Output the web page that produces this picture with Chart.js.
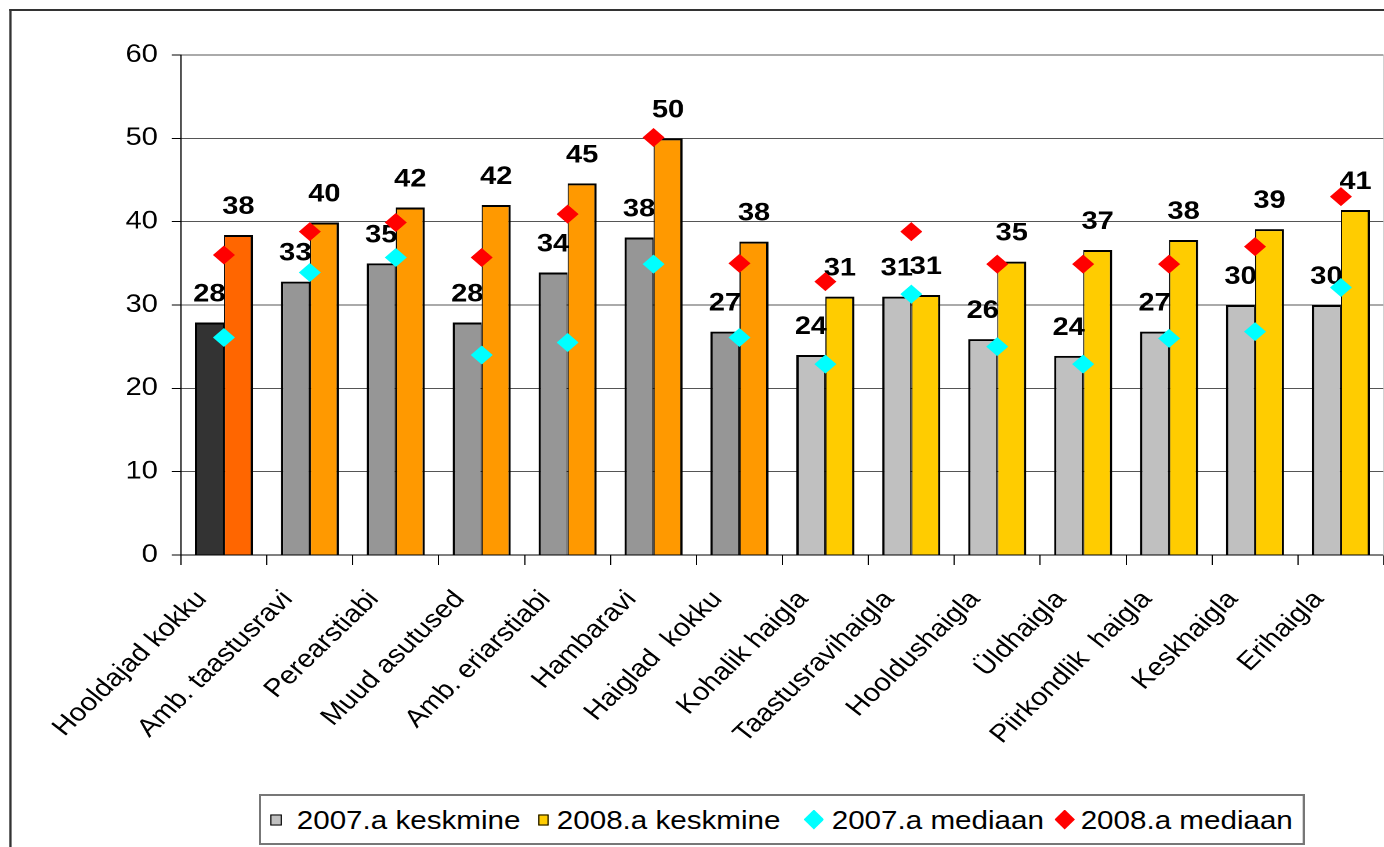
<!DOCTYPE html>
<html>
<head>
<meta charset="utf-8">
<script src="https://cdn.jsdelivr.net/npm/chart.js"></script>
<style>
    html, body { margin: 0; padding: 0; background: #fff; overflow: hidden; }
    /* the original picture is stretched sideways, so the whole sheet is drawn narrow and scaled */
    #sheet { position: absolute; left: 0; top: 0; width: 1193px; height: 847px; transform: scaleX(1.16); transform-origin: 0 0; }
    #frame { position: absolute; left: 7.5px; top: 9px; width: 2000px; height: 2000px; border-left: 2px solid #333; border-top: 2px solid #333; }
    #lineChart { position: absolute; left: 0; top: 0; }
    #legend { position: absolute; left: 223px; top: 794px; width: 902px; height: 51px; box-sizing: border-box; border: 2px solid #777; background: #fff; font: 25.5px "Liberation Sans", Arial, sans-serif; color: #000; }
    #legend .item { position: absolute; top: 50%; transform: translateY(-50%); white-space: nowrap; }
    #legend .box { width: 9.5px; height: 11px; border: 1px solid #000; box-sizing: border-box; }
    #legend .diamond { width: 17.7px; height: 20px; clip-path: polygon(50% 0, 100% 50%, 50% 100%, 0 50%); }
</style>
</head>
<body>
<div id="sheet">
    <div id="frame"></div>
    <canvas id="lineChart" width="1193" height="847"></canvas>
    <div id="legend"></div>
</div>

<script>
    const categories = ['Hooldajad kokku', 'Amb. taastusravi', 'Perearstiabi', 'Muud asutused', 'Amb. eriarstiabi',
        'Hambaravi', 'Haiglad  kokku', 'Kohalik haigla', 'Taastusravihaigla', 'Hooldushaigla', 'Üldhaigla',
        'Piirkondlik  haigla', 'Keskhaigla', 'Erihaigla'];
    const mean2007 = [27.9, 32.8, 35.0, 27.9, 33.9, 38.1, 26.8, 24.0, 31.0, 25.9, 23.9, 26.8, 30.0, 30.0];
    const mean2008 = [38.4, 39.9, 41.7, 42.0, 44.6, 50.0, 37.6, 31.0, 31.2, 35.2, 36.6, 37.8, 39.1, 41.4];
    const median2007 = [26.1, 33.9, 35.7, 24.0, 25.5, 34.9, 26.1, 22.9, 31.3, 25.0, 22.9, 26.0, 26.8, 32.1];
    const median2008 = [36.0, 38.8, 39.9, 35.7, 40.9, 50.1, 35.0, 32.8, 38.8, 34.9, 34.9, 34.9, 37.0, 43.0];
    const yMin = 0, yMax = 60, yStep = 10;

    const seriesNames = ['2007.a keskmine', '2008.a keskmine', '2007.a mediaan', '2008.a mediaan'];
    // totals, outpatient groups and hospital groups have their own shades
    const colors2007 = ['#333333', '#969696', '#969696', '#969696', '#969696', '#969696', '#969696',
        '#C0C0C0', '#C0C0C0', '#C0C0C0', '#C0C0C0', '#C0C0C0', '#C0C0C0', '#C0C0C0'];
    const colors2008 = ['#FF6600', '#FF9900', '#FF9900', '#FF9900', '#FF9900', '#FF9900', '#FF9900',
        '#FFCC00', '#FFCC00', '#FFCC00', '#FFCC00', '#FFCC00', '#FFCC00', '#FFCC00'];

    const font = '"Liberation Sans", Arial, sans-serif';

    const barLabels = { // value labels above each bar, drawn before the diamonds
        id: 'barLabels',
        afterDatasetDraw(chart, args) {
            const ds = chart.data.datasets[args.index];
            if (ds.type !== 'bar') return;
            const ctx = chart.ctx;
            ctx.save();
            ctx.font = 'bold 25px ' + font;
            ctx.fillStyle = '#000';
            ctx.textAlign = 'center';
            ctx.textBaseline = 'alphabetic';
            args.meta.data.forEach((bar, i) => {
                ctx.fillText(Math.round(ds.data[i]), bar.x, bar.y - 21);
            });
            ctx.restore();
        }
    };

    render_chart();
    render_legend();

    function render_chart() {
        let ctx = document.getElementById('lineChart').getContext('2d');
        new Chart(ctx, {
            type: 'bar',
            data: {
                labels: categories,
                datasets: [
                    {
                        type: 'bar', label: seriesNames[0], data: mean2007, order: 2,
                        backgroundColor: colors2007, borderColor: '#000',
                        borderWidth: { left: 2, top: 2, right: 1, bottom: 0 }, borderSkipped: false
                    },
                    {
                        type: 'bar', label: seriesNames[1], data: mean2008, order: 2,
                        backgroundColor: colors2008, borderColor: '#000',
                        borderWidth: { left: 1, top: 2, right: 2, bottom: 0 }, borderSkipped: false
                    },
                    {
                        type: 'line', label: seriesNames[2], data: median2007, order: 1, showLine: false,
                        pointStyle: 'rectRot', pointRadius: 9.5, pointHoverRadius: 9.5, pointBorderWidth: 0,
                        pointBackgroundColor: '#00FFFF', borderColor: '#00FFFF'
                    },
                    {
                        type: 'line', label: seriesNames[3], data: median2008, order: 0, showLine: false,
                        pointStyle: 'rectRot', pointRadius: 9.5, pointHoverRadius: 9.5, pointBorderWidth: 0,
                        pointBackgroundColor: '#FF0000', borderColor: '#FF0000'
                    }
                ]
            },
            options: {
                responsive: false,
                animation: false,
                devicePixelRatio: 2,
                layout: { autoPadding: false, padding: { top: 55, left: 0, right: 0, bottom: 0 } },
                datasets: {
                    bar: { categoryPercentage: 0.676, barPercentage: 1 }
                },
                plugins: {
                    legend: { display: false },
                    tooltip: { enabled: false }
                },
                scales: {
                    x: {
                        offset: true,
                        grid: { offset: true, drawOnChartArea: false, tickLength: 10, color: '#000' },
                        border: { color: '#000', width: 1 },
                        ticks: {
                            font: { family: font, size: 25 }, color: '#000',
                            autoSkip: false, maxRotation: 48, minRotation: 48, padding: 20, labelOffset: -19
                        },
                        afterFit(scale) {
                            scale.height = 292;
                            scale.paddingLeft = 0; // keep the plot running to the right edge
                            scale.paddingRight = 0;
                        }
                    },
                    y: {
                        min: yMin, max: yMax,
                        grid: { color: '#555', tickColor: '#000', tickLength: 8 },
                        border: { color: '#000', width: 1 },
                        ticks: { stepSize: yStep, font: { family: font, size: 25 }, color: '#000', padding: 12 },
                        afterFit(scale) { scale.width = 156; }
                    },
                    yRight: { // only the faint right edge of the plot area
                        position: 'right', min: yMin, max: yMax,
                        grid: { display: false },
                        ticks: { display: false },
                        border: { color: '#c8c8c8', width: 1 },
                        afterFit(scale) { scale.width = 0; }
                    }
                }
            },
            plugins: [barLabels]
        });
    }

    function render_legend() {
        const legend = document.getElementById('legend');
        const markers = [
            { cls: 'box', color: colors2007[colors2007.length - 1], left: 8.3, textLeft: 30.8 },
            { cls: 'box', color: colors2008[colors2008.length - 1], left: 238.5, textLeft: 255 },
            { cls: 'diamond', color: '#00FFFF', left: 467.8, textLeft: 492 },
            { cls: 'diamond', color: '#FF0000', left: 684, textLeft: 706.6 }
        ];
        markers.forEach((m, i) => {
            const mark = document.createElement('div');
            mark.className = 'item ' + m.cls;
            mark.style.left = m.left + 'px';
            mark.style.background = m.color;
            legend.appendChild(mark);
            const text = document.createElement('div');
            text.className = 'item';
            text.style.left = m.textLeft + 'px';
            text.textContent = seriesNames[i];
            legend.appendChild(text);
        });
    }
</script>
</body>
</html>
